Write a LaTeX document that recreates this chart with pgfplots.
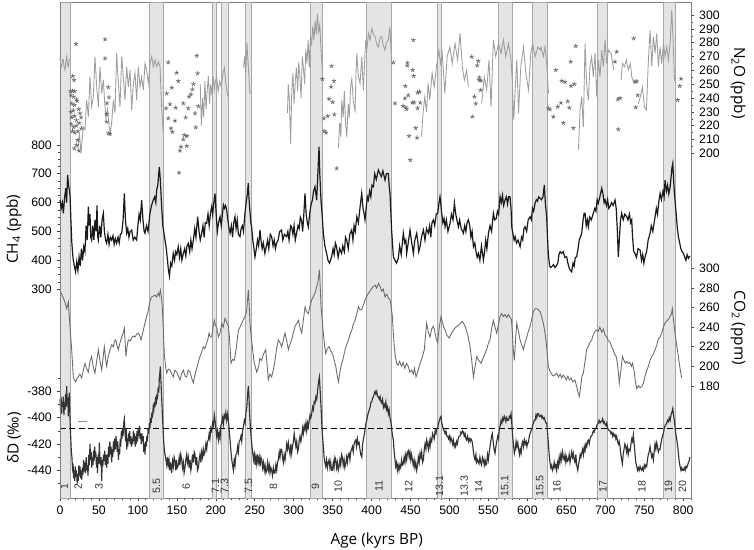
\documentclass[border=0pt]{standalone}
\usepackage{fontspec}
\setmainfont{Liberation Sans}
\newfontfamily\titlefont{Open Sans}
\usepackage{pgfplots}
\pgfplotsset{compat=1.18}

\definecolor{bandfill}{HTML}{E4E4E4}
\definecolor{bandedge}{HTML}{A8A8A8}
\definecolor{chfour}{HTML}{1A1A1A}
\definecolor{cotwo}{HTML}{6A6A6A}
\definecolor{ddeut}{HTML}{333333}
\definecolor{ntwoo}{HTML}{9E9E9E}
\definecolor{starc}{HTML}{666666}

\pgfplotsset{
  base/.style={width=473.25pt, height=372pt, scale only axis,
    xmin=0, xmax=810, clip=false,
    tick align=outside, major tick length=2.6pt, minor tick length=1.5pt,
    tick style={black!75, line width=0.4pt},
    axis line style={-, black!50, line width=0.6pt},
    ticklabel style={font=\fontsize{9.2}{10}\selectfont},
  },
  over/.style={base, hide x axis},
}
% interglacial band and its MIS label
\newcommand{\band}[2]{\addplot[fill=bandfill, draw=bandedge, line width=0.5pt]
  coordinates {(#1,-461) (#1,-84.3) (#2,-84.3) (#2,-461)} -- cycle;}
\newcommand{\mis}[2]{\node[rotate=90, font=\fontsize{8}{9}\selectfont, text=black!80]
  at (axis cs:#1,-452) {#2};}

\begin{document}
\begin{tikzpicture}
\path[use as bounding box] (-45pt,-39pt) rectangle (520.5pt,373.5pt);

% ---- dD axis: frame, x axis, bands, labels
\begin{axis}[base,
  ymin=-461, ymax=-84.3,
  ytick={-440,-420,-400,-380}, yticklabels={-440,-420,-400,-380},
  minor ytick={-450,-430,-410,-390,-370},
  ytick pos=left, xtick pos=bottom,
  xtick={0,50,...,800},
  xticklabels={0,50,100,150,200,250,300,350,400,450,500,550,600,650,700,750,800},
  minor xtick={10,20,...,810},
]
\band{0}{13}
\band{115}{133}
\band{196}{200.5}
\band{207.5}{215.5}
\band{238}{245}
\band{321.5}{337}
\band{393}{425.5}
\band{484.6}{490}
\band{563}{581}
\band{606}{626}
\band{690}{703}
\band{775}{790}

\addplot[black, line width=0.6pt, dash pattern=on 4.5pt off 2.5pt] coordinates {(0,-408) (810,-408)};
\addplot[black!45, line width=0.6pt] coordinates {(23.5,-402.5) (35,-402.5)};

\addplot[ddeut, line width=0.85pt] coordinates {
(0,-386) (0.7,-395) (1.4,-384) (2.1,-397) (2.8,-388) (3.5,-392) (4.3,-384) (5,-398) (5.7,-389) (6.4,-394)
(7.2,-382) (7.9,-392) (8.6,-376) (9.3,-390) (10,-385) (10.7,-399) (11.3,-386) (12,-381) (12.8,-400) (13.7,-414)
(14.5,-425) (15.3,-430) (16,-438) (16.8,-435) (17.5,-446) (18.3,-440) (19,-448) (19.7,-437) (20.4,-445) (21.2,-440)
(22,-450) (22.7,-443) (23.5,-448) (24.2,-436) (25,-444) (25.7,-437) (26.5,-446) (27.3,-440) (28,-447) (28.7,-438)
(29.5,-443) (30.3,-432) (31.1,-441) (32,-434) (32.8,-442) (33.6,-430) (34.4,-440) (35.1,-436) (36,-444) (36.8,-428)
(37.6,-436) (38.5,-420) (39.3,-432) (40,-426) (40.8,-438) (41.5,-430) (42.3,-436) (43,-425) (43.8,-433) (44.5,-422)
(45.3,-430) (46,-426) (46.8,-438) (47.5,-430) (48.2,-442) (49,-428) (49.7,-435) (50.5,-419) (51.2,-430) (52,-436)
(52.7,-430) (53.5,-448) (54.3,-432) (55,-437) (55.8,-428) (56.6,-433) (57.4,-425) (58.2,-436) (59,-428) (59.9,-438)
(60.7,-428) (61.5,-435) (62.3,-422) (63.1,-430) (64,-418) (64.8,-428) (65.6,-422) (66.3,-434) (67,-424) (67.8,-430)
(68.6,-418) (69.4,-426) (70.2,-416) (71,-424) (71.8,-414) (72.7,-420) (73.5,-426) (74.2,-418) (75,-432) (75.7,-424)
(76.5,-428) (77.3,-416) (78,-422) (78.8,-410) (79.5,-416) (80.3,-408) (81,-414) (81.8,-404) (82.6,-401) (83.4,-410)
(84.2,-418) (85,-408) (85.6,-424) (86.3,-416) (87,-422) (87.8,-412) (88.6,-418) (89.4,-410) (90.2,-420) (91,-414)
(91.8,-422) (92.6,-416) (93.4,-420) (94.2,-410) (95,-418) (95.7,-412) (96.5,-422) (97.3,-414) (98,-420) (98.8,-410)
(99.6,-418) (100.4,-408) (101.2,-414) (102,-406) (102.8,-416) (103.6,-412) (104.4,-420) (105.2,-412) (106,-418) (106.8,-414)
(107.6,-426) (108.4,-420) (109.1,-428) (109.9,-418) (110.7,-422) (111.5,-414) (112.3,-418) (113.1,-408) (113.9,-412) (114.7,-404)
(115.5,-408) (116.3,-400) (117.1,-404) (118,-396) (118.8,-400) (119.6,-392) (120.4,-394) (121.2,-388) (122,-392) (122.8,-384)
(123.6,-390) (124.4,-382) (125.2,-386) (126,-377) (126.8,-381) (127.5,-370) (128.2,-366) (128.8,-361) (129.4,-370) (130,-378)
(130.6,-386) (131.3,-396) (132,-405) (132.6,-412) (133.3,-420) (134,-424) (134.8,-428) (136,-432) (137,-436) (138,-430)
(139,-436) (140,-432) (141,-440) (142,-434) (143.3,-442) (144.5,-433) (145.5,-437) (146.5,-430) (147.6,-433) (148.5,-440)
(149.5,-432) (150.5,-438) (151.9,-436) (153,-430) (154,-436) (155,-428) (156.1,-431) (157.2,-438) (158.3,-434) (159.3,-442)
(160.4,-438) (161.5,-432) (162.6,-428) (163.6,-434) (164.7,-430) (165.8,-438) (166.9,-432) (168,-440) (169,-436) (170,-428)
(171.2,-434) (172.3,-426) (173.3,-428) (174.4,-436) (175.5,-430) (176.5,-440) (177.6,-438) (178.7,-432) (179.7,-428) (180.8,-434)
(181.9,-426) (183,-430) (184,-424) (185,-428) (186.1,-426) (187.2,-420) (188.3,-424) (189.3,-418) (190.4,-417) (191.5,-412)
(192.5,-416) (193.6,-408) (194.7,-410) (195.8,-404) (196.9,-406) (198.1,-398) (199,-402) (200,-408) (201.1,-414) (202.2,-410)
(203.3,-417) (204.3,-412) (205.4,-416) (206.5,-406) (207.6,-404) (208.7,-400) (209.7,-405) (210.8,-398) (211.8,-400) (212.9,-396)
(214,-402) (215.3,-397) (216.5,-404) (217.5,-412) (218.3,-417) (219.5,-426) (220.5,-432) (221.5,-436) (222.6,-440) (223.6,-432)
(224.7,-436) (225.8,-428) (226.9,-427) (228,-422) (229,-426) (230,-418) (231.2,-417) (232.3,-414) (233.3,-418) (234.4,-410)
(235.5,-407) (236.6,-402) (237.7,-404) (238.7,-396) (239.8,-392) (240.8,-382) (241.8,-376) (242.6,-384) (243.5,-398) (244.4,-407)
(245.5,-416) (246.5,-422) (247.5,-427) (248.5,-432) (249.5,-428) (250.5,-436) (251.5,-430) (252.5,-435) (253.5,-428) (254.6,-434)
(255.7,-430) (256.8,-437) (257.9,-430) (258.9,-432) (260,-438) (261,-434) (262.2,-440) (263.2,-436) (264.3,-442) (265.4,-440)
(266.5,-434) (267.5,-440) (268.6,-436) (269.6,-442) (270.7,-438) (271.7,-440) (272.8,-444) (273.9,-438) (275,-442) (276,-442)
(277.1,-436) (278.2,-440) (279.2,-434) (280.3,-432) (281.4,-426) (282.4,-430) (283.5,-424) (284.6,-424) (285.6,-430) (286.7,-434)
(287.8,-428) (288.9,-432) (290,-426) (291,-420) (292.1,-424) (293.2,-419) (294.3,-424) (295.3,-428) (296.4,-420) (297.4,-427)
(298.5,-422) (299.6,-418) (300.6,-412) (301.7,-417) (302.8,-422) (303.9,-418) (305,-426) (306,-424) (307,-418) (308.1,-414)
(309.2,-418) (310.3,-414) (311.4,-408) (312.4,-412) (313.5,-406) (314.6,-409) (315.7,-404) (316.7,-410) (317.8,-404) (318.8,-407)
(319.9,-402) (321,-398) (322,-400) (323.1,-397) (324.2,-392) (325.3,-394) (326.3,-388) (327.4,-389) (328.5,-384) (329.6,-386)
(330.8,-379) (332,-372) (333,-369) (334,-380) (335.1,-392) (336,-404) (337,-414) (338.1,-422) (339,-430) (340,-434)
(341.1,-437) (342.2,-432) (343.3,-438) (344.3,-434) (345.4,-432) (346.5,-438) (347.5,-434) (348.6,-440) (349.7,-440) (350.8,-434)
(351.8,-438) (352.9,-430) (354,-432) (355,-438) (356.1,-434) (357.2,-440) (358.3,-437) (359.3,-432) (360.4,-436) (361.5,-428)
(362.5,-430) (363.6,-436) (364.7,-432) (365.7,-438) (366.8,-435) (367.9,-430) (368.9,-434) (370,-428) (371.1,-427) (372.2,-432)
(373.2,-426) (374.3,-424) (375.4,-422) (376.4,-426) (377.5,-420) (378.6,-418) (379.7,-417) (380.7,-422) (381.8,-416) (382.9,-420)
(384,-419) (385,-424) (386.1,-428) (387.4,-430) (388.5,-420) (389.6,-416) (390.8,-412) (391.8,-408) (392.8,-404) (393.8,-402)
(395,-398) (396,-396) (397,-394) (398.1,-392) (399.2,-388) (400.3,-388) (401.3,-385) (402.3,-384) (403.4,-382) (404.4,-380)
(405.5,-382) (406.6,-380) (407.6,-384) (408.7,-384) (409.8,-386) (410.9,-384) (412,-388) (413,-389) (414.1,-386) (415.2,-392)
(416.2,-390) (417.2,-392) (418.3,-388) (419.4,-394) (420.4,-392) (421.5,-397) (422.5,-394) (423.6,-400) (424.9,-404) (426,-410)
(427,-414) (427.9,-417) (429,-426) (430.9,-437) (432,-434) (433.1,-440) (434.1,-436) (435.2,-440) (436.3,-436) (437.4,-438)
(438.5,-432) (439.6,-436) (440.7,-435) (441.7,-430) (442.8,-434) (443.9,-428) (445,-432) (446.1,-426) (447.2,-425) (448.2,-430)
(449.3,-426) (450.3,-432) (451.3,-428) (452.3,-432) (453.4,-436) (454.5,-432) (455.6,-438) (456.7,-434) (457.9,-440) (459,-436)
(460,-430) (461.1,-434) (462.2,-427) (463.2,-430) (464.3,-426) (465.4,-434) (466.5,-432) (467.6,-424) (468.6,-420) (469.7,-424)
(470.7,-417) (471.8,-420) (472.9,-424) (474,-418) (475,-422) (476.1,-416) (477.2,-418) (478.2,-412) (479.3,-414) (480.4,-416)
(481.5,-410) (482.6,-412) (483.7,-408) (484.9,-408) (486,-404) (487,-402) (488,-400) (489.1,-399) (490,-404) (491,-406)
(492.1,-409) (493.2,-410) (494.3,-412) (495.4,-410) (496.5,-414) (497.6,-414) (498.7,-416) (499.7,-414) (500.8,-418) (501.8,-415)
(502.8,-417) (503.9,-420) (504.9,-417) (506,-422) (507,-420) (507.9,-422) (509,-418) (510.1,-420) (511.2,-416) (512.3,-414)
(513.5,-414) (514.6,-411) (515.6,-412) (516.7,-410) (517.8,-411) (518.8,-414) (519.9,-412) (521,-416) (522,-417) (523.2,-414)
(524.3,-418) (525.4,-416) (526.5,-418) (527.5,-416) (528.5,-417) (529.6,-420) (530.7,-426) (531.7,-430) (532.8,-432) (533.9,-428)
(534.9,-434) (536,-432) (537.9,-435) (539,-430) (540.1,-434) (541.2,-436) (542.3,-430) (543.5,-432) (544.6,-436) (545.6,-432)
(546.7,-436) (547.7,-435) (548.8,-428) (549.9,-432) (551,-426) (552,-422) (553,-418) (554,-414) (555,-412) (556,-418)
(557.2,-424) (558.4,-427) (559.5,-422) (560.7,-418) (561.9,-414) (563,-416) (564,-408) (565.1,-406) (566.2,-402) (567.3,-404)
(568.4,-400) (569.5,-402) (570.5,-399) (571.3,-400) (572.4,-403) (573.5,-400) (574.6,-402) (575.7,-402) (576.8,-399) (577.9,-400)
(579,-397) (579.9,-404) (580.8,-412) (582,-420) (583.3,-427) (584.4,-424) (585.5,-418) (586.5,-422) (587.6,-419) (588.7,-424)
(589.8,-428) (590.8,-424) (591.9,-427) (593,-420) (594,-418) (595.1,-422) (596.2,-417) (597.3,-420) (598.4,-418) (599.4,-422)
(600.4,-419) (601.3,-419) (602.4,-414) (603.4,-412) (604.5,-410) (605.6,-409) (606.7,-406) (607.8,-404) (608.8,-402) (609.9,-402)
(611,-398) (612,-400) (613,-397) (614.2,-397) (615.2,-399) (616.2,-399) (617.3,-398) (618.4,-400) (619.4,-399) (620.5,-401)
(621.6,-400) (622.6,-402) (623.7,-404) (624.8,-404) (626,-412) (627,-420) (628,-428) (629,-434) (630.1,-438) (631.2,-436)
(632.2,-440) (633.3,-438) (634.4,-434) (635.5,-438) (636.5,-436) (637.6,-440) (638.6,-434) (639.7,-437) (640.8,-430) (641.8,-434)
(642.9,-428) (644,-432) (645,-426) (646.1,-430) (647.2,-432) (648.3,-428) (649.4,-434) (650.4,-430) (651.5,-433) (652.6,-432)
(653.6,-428) (654.7,-434) (655.8,-430) (656.8,-426) (657.9,-430) (659,-427) (660,-432) (661.1,-434) (662.2,-428) (663.3,-436)
(664.6,-440) (665.6,-436) (666.7,-432) (667.7,-428) (668.7,-430) (669.7,-427) (670.8,-424) (671.9,-428) (673,-422) (674,-425)
(675.1,-420) (676.2,-422) (677.2,-418) (678.2,-417) (679.3,-420) (680.4,-416) (681.5,-414) (682.5,-414) (683.6,-412) (684.6,-410)
(685.7,-411) (686.8,-409) (687.9,-408) (689,-406) (690,-405) (691,-404) (692.1,-402) (693.2,-404) (694.3,-403) (695.4,-403)
(696.5,-401) (697.6,-404) (698.6,-403) (699.7,-405) (700.8,-406) (701.9,-404) (703,-408) (704,-409) (705.1,-410) (706.2,-410)
(707.2,-412) (708.3,-411) (709.3,-414) (710.3,-412) (711.4,-414) (712.5,-413) (713.5,-416) (714.6,-414) (715.7,-418) (716.8,-420)
(717.8,-418) (718.9,-422) (720,-428) (721,-432) (721.9,-435) (722.9,-428) (724,-424) (725.1,-420) (726.2,-422) (727.3,-426)
(728.3,-422) (729.4,-428) (730.5,-424) (731.8,-425) (732.9,-420) (734,-416) (735,-418) (736,-413) (737.1,-420) (738.2,-428)
(739.2,-434) (740.3,-437) (741.4,-440) (742.5,-438) (743.5,-440) (744.6,-437) (745.7,-439) (746.7,-440) (747.8,-438) (748.9,-440)
(750,-436) (751,-438) (752,-436) (753.1,-437) (754.1,-432) (755.2,-428) (756.3,-426) (757.4,-422) (758.5,-426) (759.5,-430)
(760.6,-428) (761.7,-432) (762.7,-426) (763.8,-420) (764.9,-424) (766,-419) (767,-422) (768.1,-426) (769.2,-424) (770.3,-424)
(771.3,-420) (772.4,-416) (773.5,-414) (774.6,-412) (775.7,-408) (776.8,-406) (777.9,-405) (778.9,-404) (780,-402) (781.1,-403)
(782.1,-400) (783.2,-402) (784.3,-398) (785.4,-396) (786.6,-393) (787.6,-398) (788.6,-402) (789.5,-407) (790.5,-412) (791.6,-416)
(793,-422) (794,-428) (795,-434) (796,-437) (797.1,-440) (798.1,-438) (799.2,-440) (800.3,-440) (801.4,-438) (802.5,-440)
(803.5,-437) (804.6,-438) (805.7,-436) (806.7,-434) (807.5,-433) (808.5,-430)
};

\mis{5.5}{1} \mis{23.4}{2} \mis{50}{3} \mis{123.8}{5.5} \mis{162}{6}
\mis{199.5}{7.1} \mis{211}{7.3} \mis{242}{7.5} \mis{274}{8} \mis{328}{9}
\mis{357}{10} \mis{409.5}{11} \mis{447.7}{12} \mis{487}{13.1} \mis{519}{13.3}
\mis{537.6}{14} \mis{571}{15.1} \mis{616}{15.5} \mis{638}{16} \mis{697}{17}
\mis{747}{18} \mis{781}{19} \mis{799}{20}

\node[rotate=90, font=\titlefont\fontsize{11.5}{12}\selectfont] at (rel axis cs:-0.073,0.542) {CH\textsubscript{4} (ppb)};
\node[rotate=90, font=\titlefont\fontsize{11.5}{12}\selectfont] at (rel axis cs:-0.073,0.121) {δD (‰)};
\node[rotate=-90, font=\titlefont\fontsize{11.5}{12}\selectfont] at (rel axis cs:1.0745,0.837) {N\textsubscript{2}O (ppb)};
\node[rotate=-90, font=\titlefont\fontsize{11.5}{12}\selectfont] at (rel axis cs:1.0745,0.343) {CO\textsubscript{2} (ppm)};
\node[font=\titlefont\fontsize{11.5}{12}\selectfont] at (rel axis cs:0.502,-0.085) {Age (kyrs BP)};
\end{axis}

% ---- CO2 axis (right)
\begin{axis}[over, axis y line*=right,
  ymin=65.0, ymax=573.3,
  ytick={180,200,...,300}, yticklabels={180,200,220,240,260,280,300},
]
\addplot[cotwo, line width=0.65pt] coordinates {
(0,278) (2,274) (4.3,270) (6.5,265) (8.6,259) (10.7,266) (12.8,241) (15,217) (17.1,189) (18.5,186)
(20.1,184) (22,188) (23.5,189) (25.5,192) (27.8,188) (30,196) (32.1,203) (34,198) (36.4,194) (38.5,205)
(40.6,210) (42.5,200) (44.9,193) (47,205) (49.2,217) (51.5,205) (53.5,196) (55.5,210) (56.9,220) (58.5,208)
(59.9,200) (62,210) (64.2,217) (66.5,222) (68.5,220) (70,226) (71.5,227) (73,222) (74.9,217) (77,224)
(79.2,230) (81,234) (82.6,239) (84.7,210) (86,220) (87.7,227) (90,226) (92,229) (94,231) (96.3,230)
(98.5,233) (100.5,234) (102.5,231) (104,227) (105.5,232) (107,237) (109,244) (111.2,251) (113,256) (114.6,263)
(116,268) (117.7,271) (120,272) (121.9,273) (124,271) (126.2,275) (127.5,272) (128.8,278) (130,272) (131.3,261)
(132.5,240) (133.9,213) (135.5,200) (136.9,193) (139,197) (141.2,196) (143.5,192) (145.4,189) (147.5,196) (149.8,194)
(152,190) (154,186) (156,192) (158.3,196) (160.5,190) (162.6,189) (164.5,196) (166.9,194) (169,188) (171.2,183)
(173.5,192) (175.5,198) (177.5,204) (179.7,210) (182,215) (184,220) (186,218) (188.3,224) (190,228) (191.3,234)
(193,230) (194.7,230) (196.5,240) (198.1,247) (199.5,242) (201.1,240) (203.3,230) (205.4,234) (207.6,244) (209.5,240)
(211.8,249) (214,245) (216.1,241) (217.5,230) (219.5,203) (221.5,207) (223.8,206) (226.5,220) (229,237) (231,240)
(233.2,244) (235.5,248) (237.5,251) (239.5,256) (241.8,278) (243,260) (243.9,244) (245.5,230) (246.9,220) (249,205)
(250.5,200) (252.5,194) (255,200) (256.5,208) (258.9,206) (261,212) (264,217) (265.5,205) (267.4,186) (269.5,192)
(271.7,189) (274,197) (276,206) (278,218) (280.3,227) (282.5,224) (284.6,220) (287,228) (288.9,234) (291,226)
(293.2,217) (295,222) (297.4,227) (299.5,234) (301.7,241) (304,244) (306,247) (308,240) (310.3,234) (312.5,248)
(314.6,261) (316.5,256) (318.8,254) (321,262) (323.1,268) (325,271) (327.4,275) (329,280) (330.8,285) (332,292)
(333,299) (334,282) (335.1,261) (336.5,248) (338.1,234) (339.5,222) (341.1,213) (343,218) (345.4,220) (347.5,216)
(349.7,213) (352,206) (354,200) (355.5,192) (357.4,184) (359.5,195) (361.7,203) (364,210) (366,217) (368,222)
(370.3,227) (372.5,233) (374.6,237) (376.5,243) (378.8,247) (381,254) (383.1,261) (385,258) (387.4,258) (389.5,263)
(391.7,268) (394,272) (396,275) (398,277) (400.3,280) (402.5,282) (404.6,283) (406.5,280) (408.9,285) (410.8,282)
(413,277) (415,279) (417.2,271) (419.5,274) (421.5,270) (423.6,268) (425,262) (426.6,251) (427.8,235) (429.1,220)
(430.5,210) (432.1,203) (434,201) (436,205) (438.5,200) (440.5,204) (442.5,198) (444.9,203) (447,200) (449,194)
(451.4,196) (453.5,192) (455,198) (457,189) (459.5,195) (462.2,203) (464.5,208) (467.7,217) (469,230) (470.7,244)
(472.5,236) (475,230) (477,238) (479.3,241) (481,236) (483,228) (484.8,224) (486.5,238) (489.1,251) (491,245)
(492.5,240) (494.3,237) (496.5,232) (499.4,229) (502,233) (505,237) (508,240) (511.4,242) (514,244) (516.5,246)
(518,244) (520,241) (522,236) (524,230) (526.4,220) (528.5,206) (530.7,189) (532.5,198) (535,210) (537.5,206)
(540.5,203) (543,208) (545.6,213) (548,218) (550,224) (552,227) (554,238) (556.3,247) (558.5,240) (560.6,234)
(562.5,242) (564.9,251) (567,254) (569,251) (571.3,253) (573.5,250) (575.5,253) (577.7,250) (579.5,248) (580.7,234)
(582,216) (583.3,206) (584.8,228) (586.3,244) (588.5,236) (590.6,227) (592.7,222) (594.9,217) (597,224) (599.2,230)
(601.3,236) (603.4,241) (605.5,248) (607.7,256) (609.8,259) (612,259) (614,258) (616.3,256) (618.5,250) (620.5,244)
(622.6,234) (624.5,222) (626.8,200) (629,195) (631,192) (633,190) (635.4,191) (637.5,193) (640,189) (642,192)
(644,188) (646,191) (648,189) (650,186) (652,190) (654,186) (656,188) (658,184) (661,186) (663,180)
(664.8,174) (666.6,169) (668.5,180) (670,190) (671.8,193) (674,205) (676,217) (678,220) (680,224) (682.5,227)
(684.5,232) (687,236) (689,237) (691,236) (693,240) (695.4,235) (697.5,238) (699.7,232) (701.8,230) (704,226)
(706,225) (708,220) (710,217) (712,212) (714,210) (716,200) (718,183) (720,196) (722,210) (724,206)
(726,203) (727.5,205) (729.5,203) (731.5,204) (733.5,200) (735,203) (737,195) (738.5,185) (740.3,177) (742.5,180)
(744.6,178) (746.7,179) (749,183) (751,190) (753,195) (755.2,200) (757.5,206) (759.5,210) (761.5,212) (763.8,217)
(766,221) (768,228) (770.3,230) (772.4,234) (774.5,240) (776.5,244) (778.5,246) (781,248) (783,251) (785,254)
(786,259) (787.5,248) (789.5,234) (791.5,222) (793.8,210) (795.5,200) (798,188)
};
\end{axis}

% ---- CH4 axis (left)
\begin{axis}[over, axis y line*=left,
  ymin=-423.9, ymax=1295.3,
  ytick={300,400,...,800}, yticklabels={300,400,500,600,700,800},
  minor ytick={325,350,...,775},
]
\addplot[chfour, line width=0.9pt] coordinates {
(0,609) (1.5,580) (3,600) (4.3,563) (6,620) (7.5,650) (8.5,600) (9.8,696) (11,660) (12.3,640)
(13,620) (14,540) (15,470) (16,430) (17,401) (18.5,380) (20,360) (21.5,395) (23,365) (24.5,412)
(26,380) (27.5,440) (29,400) (30.5,447) (32,430) (33.5,520) (35,470) (36.4,586) (37.5,520) (38.5,560)
(39.5,480) (40.6,470) (42,520) (43.5,470) (44.9,540) (46.5,500) (47.5,590) (48.5,480) (49.2,470) (51,520)
(52.5,480) (54,540) (55.6,563) (57,500) (58.5,470) (59.9,459) (61.5,490) (63,455) (64.5,480) (66.3,470)
(68,485) (69.5,455) (71,475) (72.7,459) (74.5,480) (76,460) (77.5,490) (79.2,494) (81,540) (82.6,632)
(84,540) (85.6,494) (87,510) (88.5,480) (90,500) (92,505) (94,470) (96,480) (98.4,470) (100,520)
(101.5,560) (103,540) (104.8,609) (106.5,540) (108,500) (109.1,494) (111,520) (113,500) (115.5,563) (117.5,590)
(119.8,609) (121.5,620) (123,600) (124.1,644) (125.5,660) (127.5,724) (128.5,690) (129.5,640) (130.5,586) (132,520)
(134.8,470) (136.5,440) (138,400) (139,370) (140.5,345) (142,390) (143.5,380) (145.4,424) (147,400) (148.5,430)
(150,420) (151.8,447) (153.5,410) (155,440) (156.5,400) (158.3,424) (160,440) (161.5,415) (163,450) (164.7,459)
(166.5,430) (168,470) (169.5,440) (171.2,470) (173,510) (174.5,480) (176.7,551) (178.5,500) (180,470) (181.9,494)
(183.5,520) (185,480) (186.5,530) (188.3,528) (190,560) (191.5,520) (193,560) (194.7,586) (196,560) (197.5,600)
(199,632) (200.5,560) (202,500) (203.5,530) (205.4,551) (207,520) (208.5,560) (209.7,592) (211,580) (212.5,590)
(214,574) (215.5,540) (217,510) (218.3,494) (220,520) (221.5,480) (223,530) (224.6,551) (226,510) (227.5,540)
(229,490) (231,482) (232.5,510) (234,520) (235.5,500) (237.4,563) (239,600) (240.5,630) (241.7,667) (242.5,620)
(243.5,580) (245,530) (246,516) (247.5,470) (249,440) (250.3,412) (252,440) (253.5,470) (255,450) (256.7,505)
(258,470) (259.5,440) (261,460) (263,424) (265,450) (266.5,470) (268,440) (270,490) (271.7,482) (273.5,450)
(275,470) (276.5,440) (278,459) (280,470) (282,500) (284.4,505) (286,470) (288,490) (290.9,482) (292.5,500)
(294,470) (296,520) (297.3,516) (299,490) (300.5,520) (302,470) (303.7,494) (305.5,520) (307,510) (308.5,550)
(310,540) (311.5,500) (313,560) (314.5,632) (316,560) (317.5,530) (318.8,516) (320.5,560) (322,590) (324,609)
(325.5,640) (327.3,655) (328.5,630) (329.5,609) (331,700) (332.5,794) (333.5,700) (335,609) (336.5,560) (338,494)
(340,450) (342.3,424) (344,400) (346,390) (348.7,412) (350.5,440) (352,420) (353.5,460) (355,447) (357,410)
(359,440) (361.5,424) (363,450) (365,430) (366.5,480) (368,470) (370,440) (372,490) (374.4,505) (376,470)
(377.5,520) (379,500) (381,551) (383,530) (385,580) (387.3,632) (389,580) (390.5,560) (391.5,540) (393,580)
(394.5,620) (395.8,609) (397.5,640) (399,620) (400.5,660) (402.3,655) (404,700) (406,680) (408.7,713) (410.8,700)
(412.5,690) (414.5,710) (417.2,678) (419,700) (421.5,701) (422.5,660) (423.6,632) (424.8,560) (425.7,505) (427,450)
(428,412) (430,400) (432,390) (434.3,407) (436,450) (438,420) (440.7,494) (442.5,460) (444,470) (445,424)
(447,460) (449.3,505) (451,470) (453.6,424) (455.5,470) (457.9,494) (459.5,460) (460.5,430) (462.2,447) (464,480)
(466.5,505) (468.5,470) (470.5,510) (472.8,494) (474.5,520) (476,480) (477.5,530) (479.3,540) (481,520) (483,560)
(484.9,563) (486.5,600) (487.8,620) (489,590) (490,563) (491.5,530) (493,545) (494.3,516) (496,540) (498,500)
(500.7,528) (502.5,560) (504.5,540) (506.3,598) (508,560) (509.5,540) (511.4,516) (513,540) (515,510) (517.8,494)
(519.5,520) (521,500) (522.5,530) (524.3,540) (526,520) (527.5,480) (529,500) (530.7,447) (532.5,460) (534,430)
(535.5,410) (537.1,424) (539,400) (541,450) (543.5,401) (545,430) (546.5,470) (548,440) (550,494) (552,520)
(554,500) (556.3,563) (558,540) (560,545) (561.5,570) (563,560) (564.9,620) (566.5,600) (568,625) (569.5,590)
(571.3,609) (573,620) (574.5,595) (576,620) (577.7,620) (579,580) (579.9,516) (581.5,490) (583,470) (584.2,482)
(586,460) (588,470) (590.6,447) (592.5,480) (594,470) (595.5,510) (597,516) (599,500) (601,540) (603.4,551)
(605,540) (606.5,580) (608,570) (609.8,598) (611.5,610) (613,605) (614.5,620) (616.2,615) (618,610) (620,620)
(621.7,661) (623,600) (624.7,551) (625.8,480) (626.8,424) (628.5,380) (630,375) (632,380) (633.5,385) (635.4,375)
(637,380) (639,390) (640.5,420) (642,430) (644,424) (646,430) (648,410) (650.4,412) (652,390) (654,370)
(656.8,360) (658.5,390) (660,380) (661.5,410) (663.2,412) (665,440) (666.5,470) (668,480) (669.7,494) (671.5,540)
(672.8,563) (674,563) (675.5,520) (677,540) (678.2,516) (680,550) (682,540) (684.6,563) (686.5,580) (688,570)
(689.5,610) (691,598) (693,620) (695.4,650) (697,630) (698.5,600) (699.7,609) (701.5,590) (703,610) (704.5,580)
(706,586) (708,600) (710,590) (712.5,609) (714,580) (715.5,500) (716.7,412) (718,470) (719.5,540) (721,563)
(723,540) (725,560) (727.5,551) (729,540) (731,560) (732.5,530) (733.9,540) (735,480) (736.5,430) (738.1,424)
(740,410) (742,440) (744.6,436) (746.5,400) (748,420) (749.5,390) (751,412) (753,430) (755,470) (757.5,494)
(759,520) (761,500) (763.9,551) (765.5,580) (767,560) (768.5,600) (770.3,632) (772,610) (774,640) (775.5,620)
(776.7,678) (778.5,640) (780,660) (781.5,630) (783.2,655) (784.5,690) (785.5,720) (786.6,736) (787.5,690) (788.5,640)
(789.5,609) (791,560) (792.5,510) (793.8,482) (795.5,460) (797,440) (798.5,430) (800.3,424) (802,410) (803.5,400)
(805,420) (806.7,407) (808.5,415)
};
\end{axis}

% ---- N2O axis (right)
\begin{axis}[over, axis y line*=right,
  ymin=-49.4, ymax=309.5,
  ytick={200,210,...,300}, yticklabels={200,210,220,230,240,250,260,270,280,290,300},
  minor ytick={205,215,...,295},
  unbounded coords=jump,
]
\addplot[ntwoo, line width=0.65pt] coordinates {
(0,269) (1,264) (2.1,262.7) (3.2,268) (4.3,267.5) (5.3,262) (6.4,260.3) (7.5,266) (8.6,270) (9.6,264) (10.7,262.7) (11.8,268) (12.8,267.5) (12.9,nan)
(23,202) (25,215) (27,200) (29.9,219) (32.1,217) (34.2,238.6) (36.4,226.5) (38.5,255.4) (40.6,233.7) (42.8,241) (44.9,270) (47.1,248.2)
(49.2,233.7) (51.3,262.7) (53.5,243.4) (55.6,253) (57,240) (59,225) (61,232) (63,220) (64.5,215) (66.3,221.7) (68.5,238.6) (70.6,229)
(72.7,272.4) (74.9,250.6) (77,233.7) (79.2,270) (81.3,255.4) (83.4,238.6) (85.6,262.7) (87.7,248.2) (89.9,260.3) (92,231.3) (94.1,250.6)
(96.3,258) (98.4,238.6) (100.5,262.7) (102.7,248.2) (104.8,255.4) (107,245.8) (109.1,265) (111.2,260.3) (113.4,250.6) (115.5,265)
(117.7,270) (119.8,262.7) (121.9,267.5) (124.1,262.7) (126.2,266.3) (128.4,262.7) (130.5,233.7) (132.6,214.5) (132.7,nan)
(180,250) (181.5,220) (183,240) (184.5,226) (186,252) (187.5,232) (189,246) (190.5,256) (192,236) (193.5,250) (195,242) (196.5,256)
(198,246) (199.5,252) (201,255) (203,245) (205,252) (207,248) (209,257) (211,262) (213,250) (215.5,241) (215.6,nan)
(235.5,262) (237,270) (238.5,258) (240,280) (241.5,265) (243,250) (244,243) (244.1,nan)
(292,229) (293,250) (294.5,238) (296,207) (297.5,245) (299,258) (300.5,236) (302,252) (303.5,262) (305,245) (306.5,266) (308,255)
(309.5,240) (311,270) (312.5,262) (314,250) (315.5,275) (317,265) (318.5,282) (320,262) (321.5,285) (323,278) (324.5,292) (326,282)
(327.5,296) (329,286) (330.5,301) (332,288) (333.5,293) (335,276) (336.5,262) (337.5,253) (337.6,nan)
(357.4,204) (359,222) (360.5,212) (361.7,238.6) (363.5,226) (365,245) (366.5,222) (368.1,212) (370,236) (371.5,226) (373,248)
(374.6,254) (376.5,238) (378.8,231) (380,258) (381,272.4) (383,256) (385.2,250.6) (387.4,270) (389.5,245.8) (391,266) (392.5,282)
(394,276) (396,286.8) (398,282) (400.3,290.4) (402.5,286) (404.6,284.4) (406.5,279) (408.7,277) (411,284) (413,284.4) (415,278)
(417,274.7) (419,280) (421.4,282) (423.5,291.6) (425.7,265) (425.8,nan)
(464,212) (466,229) (468.3,241) (470.5,230) (472.5,250.6) (474.7,238.6) (477.7,258) (480.3,248) (483.3,262.7) (486.3,274.7)
(488.5,265) (490.6,272.4) (494,243.4) (497,270) (500.5,277) (503.5,265) (507,279.6) (510.4,267.5) (513.5,286.8) (516.5,262.7)
(519,253) (522,260) (524.2,248) (524.3,nan)
(541.3,236) (544.7,255.4) (547.7,245.8) (550.7,267.5) (553.3,233.7) (556.3,282) (559.4,270) (562.8,279.6) (566.2,272.4) (569.2,282)
(572.2,270) (575.7,279.6) (579,267.5) (580.8,250.6) (582.5,224) (584.3,245.8) (586.4,267.5) (588.6,229) (591.5,262.7) (595,277)
(598,258) (601.4,245.8) (604.4,272.4) (606.6,279.6) (610,270) (613.4,277) (616.4,274.7) (617.5,277) (620.5,270) (622.6,277)
(624.8,265) (627,243.4) (627.1,nan)
(665.5,202.4) (667.6,231.3) (669.7,241) (671.8,219.2) (674,279.6) (676,250.6) (678.2,238.6) (680.3,262.7) (682.5,270) (684.6,255.4)
(686.8,272.4) (689,241) (691,267.5) (693.2,255.4) (695.4,274.7) (697.5,262.7) (699.7,282) (701.8,265) (704,274.7) (707.4,272.4)
(710.8,260.3) (710.9,nan)
(720.2,253) (722,265) (724.5,262.7) (727,267.5) (729.6,260.3) (732.2,265) (733.9,255.4) (737.3,250.6) (737.4,nan)
(742.4,236) (745,241) (747.6,248) (750.2,233.7) (752.8,231.3) (755.3,267.5) (757.5,289.2) (759.6,262.7) (761.7,284.4) (763.9,272.4)
(766,286.8) (768.1,262.7) (770.3,277) (772.4,265) (774.6,279.6) (776.7,270) (778.9,277) (781,267.5) (783.2,279.6) (785.3,303.7)
(787,282) (788.8,253) (790.5,254.3)
};
\addplot[only marks, mark=star, mark size=1.7pt, starc, mark options={line width=0.5pt}] coordinates {
(13.5,245) (16,245) (19,245) (14,242) (17.5,241) (21,239) (15,236) (18.5,235) (22,238) (14,230) (17,231) (24,232) (25.5,229)
(15,226) (18.5,227) (21,224) (27,226) (14.5,221) (17.5,219) (21,220) (24.5,222) (19,215) (23,216) (27.5,218) (16,216)
(20.5,279.1) (57.8,282.5) (57.8,268.7) (16.3,255.9) (18,253) (62,247.8) (62.9,240.5) (60.3,236.2) (59.9,228.4) (59.9,222.9)
(62,214.5) (64.2,214) (22.7,209.6) (21.4,206) (24.4,201.9) (18.4,203.6) (139,265.8) (149.8,258.3) (151.9,252.3) (143.4,247.5)
(136.9,243.4) (141.2,235.5) (136.1,232.6) (139,225.3) (148.5,233) (147.6,223.6) (142.5,218.1) (144.2,215.6) (159.6,213.2)
(163,212.5) (158.3,210.1) (155.3,204.8) (154,201.9) (162.6,205.3) (158.3,236.2) (161.3,226) (164.7,232.6) (165.6,241)
(168.2,242.7) (169.9,246.3) (171.2,250.1) (173.3,228.9) (174.2,218.8) (175.5,270.6) (176.7,257.9) (177.6,234.2) (152.8,186)
(348.7,263.2) (351.7,252.3) (347.9,248.2) (345.3,239.3) (350,237.1) (338.9,225.3) (343.6,227) (352.2,228.2) (339.3,216.1)
(341.5,214.9) (355.2,189.1) (336.8,253.8)
(453.6,282) (445.9,265.6) (445.9,263.5) (452.7,260.3) (454,256) (443.3,248.7) (447,242) (442.8,239.8) (430,236.2) (440.2,234.3)
(444,233.3) (444.9,232.1) (452.2,236.7) (454.7,236.9) (459,243.9) (461.5,244.6) (459,232.6) (462.4,236.7) (456.6,218.3) (448,212.5)
(458.3,211.3) (449.7,195.1) (427.9,265.8) (528.5,269.9) (537,266.8) (535.7,263.6) (538.3,255) (540.4,252.6) (537.9,253) (540,245.8)
(532,241) (533.7,236) (529.4,226.5)
(636.3,260.3) (644,252.5) (648.3,251.6) (656,248.7) (660.2,250.1) (655.5,266.3) (662,277.6) (626.8,232.6) (629,231.8) (638.9,233.7)
(643,236.6) (651.7,237.6) (653.8,233) (633.3,226.5) (646.2,222.1) (659,218.3) (714.6,273.5) (712.5,266.3) (716,239.1) (718.9,240)
(716.7,217.4) (736.4,283.2) (738.1,251.8) (740.3,252.1) (741.6,242) (739,233.3) (797.2,254) (795.5,248.7) (792.9,238.6)
};
\end{axis}
\end{tikzpicture}
\end{document}
